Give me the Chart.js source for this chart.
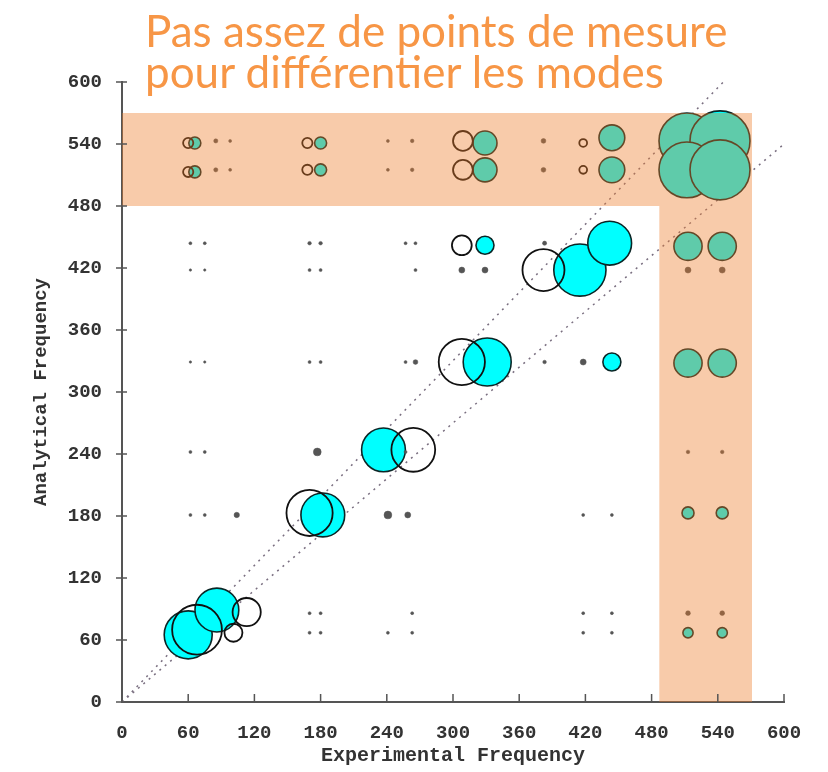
<!DOCTYPE html>
<html>
<head>
<meta charset="utf-8">
<script src="https://cdn.jsdelivr.net/npm/chart.js@4.4.1/dist/chart.umd.min.js"></script>
<style>
  html, body { margin: 0; padding: 0; background: #fff; }
  #wrap { position: relative; width: 828px; height: 772px; }
  #note {
    position: absolute; left: 145px; top: 10px;
    font-family: Lato, "Noto Sans", sans-serif; font-size: 44px; line-height: 41px;
    color: #F79646; white-space: nowrap; pointer-events: none;
  }
</style>
</head>
<body>
<div id="wrap">
  <canvas id="chart" width="828" height="772"></canvas>
  <div id="note">Pas assez de points de mesure<br>pour différentier les modes</div>
</div>
<script>
// axis ticks (both axes 0..600 step 60)
const tickStep = 60;
const axisMax = 600;

// cyan filled bubbles : experimental freq, analytical freq, MAC
const cyanX   = [60, 86, 182, 237, 331, 415, 442, 329, 444, 512, 542, 512, 542, 513, 544, 513, 544, 513, 544, 513, 544, 444, 444, 329, 329, 180, 180, 66, 66];
const cyanY   = [65, 89, 181, 244, 329, 418, 444, 442, 329, 543, 543, 515, 515, 441, 441, 328, 328, 183, 183, 67, 67, 546, 515, 541, 515, 541, 515, 541, 513];
const cyanMac = [0.80, 0.73, 0.73, 0.73, 0.80, 0.87, 0.73, 0.30, 0.30, 0.93, 1.0, 0.93, 1.0, 0.47, 0.47, 0.47, 0.47, 0.20, 0.20, 0.17, 0.17, 0.43, 0.43, 0.40, 0.40, 0.20, 0.20, 0.20, 0.20];

// open circles (second comparison)
const openX   = [68, 113, 101, 170, 264, 308, 382, 308, 309, 309, 60, 60, 168, 168, 418, 418];
const openY   = [70, 87, 67, 183, 244, 329, 418, 442, 543, 515, 541, 513, 541, 515, 541, 515];
const openMac = [0.83, 0.47, 0.30, 0.77, 0.73, 0.77, 0.70, 0.33, 0.33, 0.33, 0.17, 0.17, 0.17, 0.17, 0.13, 0.13];

// tiny off-diagonal values
const dotX = [62, 75, 170, 180, 257, 266, 383,
              62, 75, 170, 180, 266, 308, 329, 513, 544,
              62, 75, 170, 180, 257, 266, 383, 418,
              62, 75, 177, 257, 513, 544,
              62, 75, 104, 241, 259, 418, 444,
              170, 180, 263, 418, 444, 513, 544,
              170, 180, 241, 263, 418, 444,
              85, 98, 241, 263, 382,
              85, 98, 241, 263, 382];
const dotY = [444, 444, 444, 444, 444, 444, 444,
              418, 418, 418, 418, 418, 418, 418, 418, 418,
              329, 329, 329, 329, 329, 329, 329, 329,
              242, 242, 242, 242, 242, 242,
              181, 181, 181, 181, 181, 181, 181,
              86, 86, 86, 86, 86, 86, 86,
              67, 67, 67, 67, 67, 67,
              543, 543, 543, 543, 543,
              515, 515, 515, 515, 515];
const dotMac = [0.05, 0.05, 0.06, 0.06, 0.05, 0.05, 0.07,
                0.04, 0.04, 0.05, 0.05, 0.05, 0.10, 0.10, 0.10, 0.10,
                0.04, 0.04, 0.05, 0.05, 0.05, 0.08, 0.06, 0.10,
                0.05, 0.05, 0.13, 0.05, 0.06, 0.06,
                0.05, 0.05, 0.09, 0.13, 0.10, 0.05, 0.05,
                0.05, 0.05, 0.05, 0.05, 0.05, 0.08, 0.08,
                0.05, 0.05, 0.05, 0.05, 0.05, 0.05,
                0.07, 0.05, 0.05, 0.06, 0.08,
                0.07, 0.05, 0.05, 0.06, 0.08];

// +/-10% reference lines
const upperLine = [[0, 0], [545, 600]];
const lowerLine = [[0, 0], [600, 540]];

// highlighted zone (frequencies too close to separate)
const zoneX = [0, 487, 571];
const zoneY = [0, 480, 570];

const R_MAX = 30;
const pts = (xs, ys, ms) => xs.map((x, i) => ({ x: x, y: ys[i], r: ms[i] * R_MAX }));
const seg = (l) => l.map(p => ({ x: p[0], y: p[1] }));

const zonePlugin = {
  id: 'zone',
  afterDatasetsDraw(chart) {
    const { ctx, scales: { x, y } } = chart;
    ctx.save();
    ctx.fillStyle = 'rgba(238,125,43,0.4)';
    // top strip
    ctx.fillRect(x.getPixelForValue(zoneX[0]), y.getPixelForValue(zoneY[2]),
      x.getPixelForValue(zoneX[2]) - x.getPixelForValue(zoneX[0]),
      y.getPixelForValue(zoneY[1]) - y.getPixelForValue(zoneY[2]));
    // right strip
    ctx.fillRect(x.getPixelForValue(zoneX[1]), y.getPixelForValue(zoneY[1]),
      x.getPixelForValue(zoneX[2]) - x.getPixelForValue(zoneX[1]),
      y.getPixelForValue(zoneY[0]) - y.getPixelForValue(zoneY[1]));
    ctx.restore();
  },
  afterDraw(chart) {
    // small tick marks like the original plot
    const { ctx, scales: { x, y } } = chart;
    ctx.save();
    ctx.strokeStyle = '#555';
    ctx.lineWidth = 1.5;
    ctx.beginPath();
    x.ticks.forEach(t => {
      const px = x.getPixelForValue(t.value);
      ctx.moveTo(px, y.bottom); ctx.lineTo(px, y.bottom - 8);
    });
    y.ticks.forEach(t => {
      const py = y.getPixelForValue(t.value);
      ctx.moveTo(x.left - 6, py); ctx.lineTo(x.left + 5, py);
    });
    ctx.stroke();
    ctx.restore();
  }
};

const tickFont = { family: '"Liberation Mono", monospace', size: 19, weight: 'bold' };

new Chart(document.getElementById('chart').getContext('2d'), {
  type: 'bubble',
  data: {
    datasets: [
      {
        label: 'cyan',
        data: pts(cyanX, cyanY, cyanMac),
        backgroundColor: '#00FFFF',
        borderColor: '#0b2626',
        borderWidth: 1.6,
        order: 2
      },
      {
        label: 'open',
        data: pts(openX, openY, openMac),
        backgroundColor: 'rgba(0,0,0,0)',
        borderColor: '#111',
        borderWidth: 1.8,
        order: 1
      },
      {
        label: 'dots',
        data: pts(dotX, dotY, dotMac),
        backgroundColor: '#555',
        borderColor: '#555',
        borderWidth: 0.5,
        order: 1
      },
      {
        type: 'line',
        label: 'upper',
        data: seg(upperLine),
        borderColor: '#7a6f80',
        borderWidth: 1.5,
        borderDash: [2, 5],
        pointRadius: 0,
        order: 3
      },
      {
        type: 'line',
        label: 'lower',
        data: seg(lowerLine),
        borderColor: '#7a6f80',
        borderWidth: 1.5,
        borderDash: [2, 5],
        pointRadius: 0,
        order: 3
      }
    ]
  },
  options: {
    responsive: false,
    animation: false,
    devicePixelRatio: 1,
    layout: { padding: { top: 82, right: 44, left: 0, bottom: 0 } },
    plugins: { legend: { display: false }, tooltip: { enabled: false } },
    scales: {
      x: {
        type: 'linear', min: 0, max: axisMax,
        ticks: { stepSize: tickStep, font: tickFont, color: '#333', padding: 12 },
        grid: { display: false },
        border: { display: true, color: '#555', width: 2 },
        title: { display: true, text: 'Experimental Frequency', color: '#333',
                 font: { family: '"Liberation Mono", monospace', size: 20, weight: 'bold' },
                 padding: { top: 0, bottom: 4 } },
        afterFit(s) { s.height = 70; }
      },
      y: {
        type: 'linear', min: 0, max: axisMax,
        ticks: { stepSize: tickStep, font: tickFont, color: '#333', padding: 12 },
        grid: { display: false },
        border: { display: true, color: '#555', width: 2 },
        title: { display: true, text: 'Analytical Frequency', color: '#333',
                 font: { family: '"Liberation Mono", monospace', size: 19, weight: 'bold' },
                 padding: { top: 30, bottom: 0 } },
        afterFit(s) { s.width = 122; }
      }
    }
  },
  plugins: [zonePlugin]
});
</script>
</body>
</html>
